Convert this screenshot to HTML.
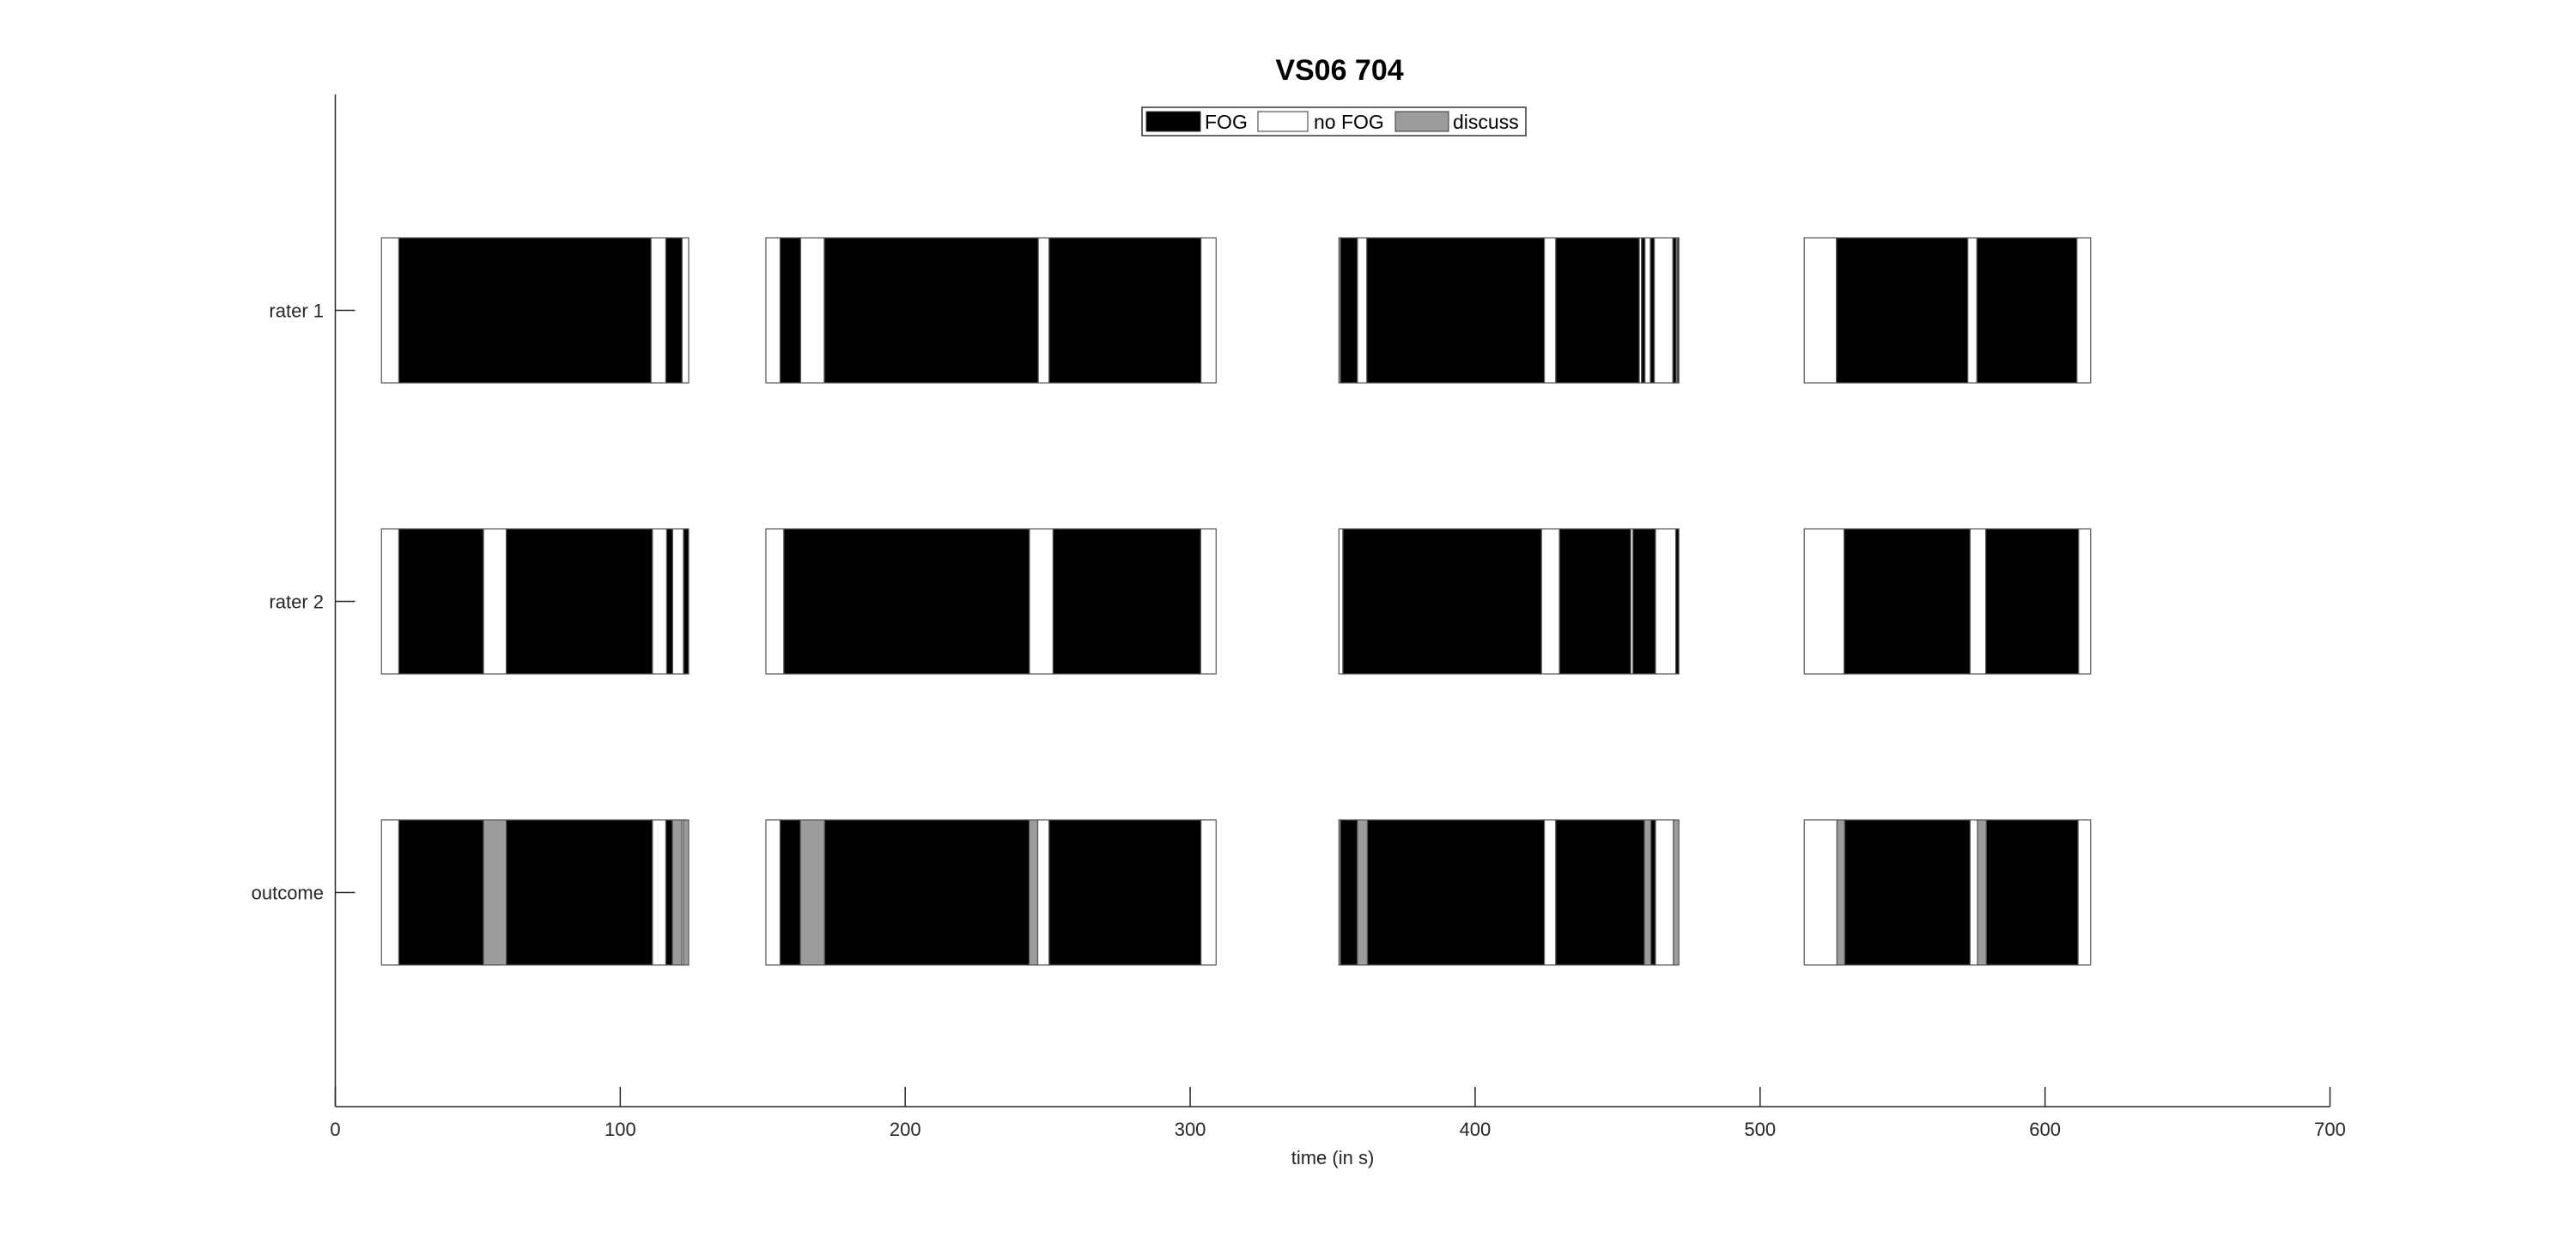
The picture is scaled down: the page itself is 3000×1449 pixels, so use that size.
<!DOCTYPE html>
<html><head><meta charset="utf-8">
<style>
html,body{margin:0;padding:0;background:#fff;}
svg{display:block;font-family:"Liberation Sans",Arial,sans-serif;}
</style></head>
<body>
<svg id="chart" width="3000" height="1449" viewBox="0 0 3000 1449" xmlns="http://www.w3.org/2000/svg">
<rect x="0" y="0" width="3000" height="1449" fill="#fff"/>
<text x="1560" y="93" text-anchor="middle" font-size="34" font-weight="bold" fill="#000">VS06 704</text>
<g id="plot"></g>
<g>
  <rect x="1330" y="125" width="447" height="33" fill="#fff" stroke="#333" stroke-width="1.5"/>
  <rect x="1335" y="130" width="63" height="23" fill="#000" stroke="#333"/>
  <text x="1403" y="150" font-size="23" fill="#000">FOG</text>
  <rect x="1465" y="130" width="58" height="23" fill="#fff" stroke="#333"/>
  <text x="1530" y="150" font-size="23" fill="#000">no FOG</text>
  <rect x="1625" y="130" width="62" height="23" fill="#9c9c9c" stroke="#333"/>
  <text x="1692" y="150" font-size="23" fill="#000">discuss</text>
</g>
</svg>
<script>
// Data: segments [start, end, state]; state: 1=FOG, 0=no FOG, 2=discuss
const rowLabels = ["rater 1", "rater 2", "outcome"];
const xTicks = [0, 100, 200, 300, 400, 500, 600, 700];
const rater1Segments = [
 [16.2,22.3,0],[22.3,110.8,1],[110.8,116,0],[116,121.7,1],[121.7,124,0],
 [151.1,156.1,0],[156.1,163.3,1],[163.3,171.6,0],[171.6,246.7,1],[246.7,250.5,0],[250.5,303.8,1],[303.8,309.1,0],
 [352.2,352.7,0],[352.7,358.7,1],[358.7,362.0,0],[362.0,424.3,1],[424.3,428.3,0],[428.3,457.6,1],[457.6,458.4,0],[458.4,459.6,1],[459.6,461.5,0],[461.5,462.9,1],[462.9,469.4,0],[469.4,470.6,1],[470.6,471.0,0],[471.0,471.5,1],
 [515.5,526.8,0],[526.8,572.9,1],[572.9,576.1,0],[576.1,611.2,1],[611.2,616.0,0]
];
const rater2Segments = [
 [16.2,22.3,0],[22.3,52,1],[52,60,0],[60,111.3,1],[111.3,116.3,0],[116.3,118.4,1],[118.4,122.2,0],[122.2,124,1],
 [151.1,157.4,0],[157.4,243.6,1],[243.6,251.9,0],[251.9,303.7,1],[303.7,309.1,0],
 [352.2,353.6,0],[353.6,423.3,1],[423.3,429.6,0],[429.6,454.6,1],[454.6,455.4,0],[455.4,463.3,1],[463.3,470.4,0],[470.4,471.5,1],
 [515.5,529.5,0],[529.5,573.7,1],[573.7,579.2,0],[579.2,611.8,1],[611.8,616.0,0]
];
const outcomeSegments = [
 [16.2,22.3,0],[22.3,52,1],[52,60,2],[60,111.3,1],[111.3,116,0],[116,118.3,1],[118.3,121.6,2],[121.6,122.2,0],[122.2,124,2],
 [151.1,156.1,0],[156.1,163.2,1],[163.2,171.7,2],[171.7,243.5,1],[243.5,246.5,2],[246.5,250.5,0],[250.5,303.8,1],[303.8,309.1,0],
 [352.2,352.7,0],[352.7,358.7,1],[358.7,362.2,2],[362.2,424.3,1],[424.3,428.3,0],[428.3,459.4,1],[459.4,461.7,2],[461.7,463.3,1],[463.3,469.6,0],[469.6,471.5,2],
 [515.5,527.0,0],[527.0,529.7,2],[529.7,573.7,1],[573.7,576.3,0],[576.3,579.4,2],[579.4,611.6,1],[611.6,616.0,0]
];
const stateNames = ["no-fog", "fog", "discuss"];

const NS = "http://www.w3.org/2000/svg";
const X0 = 390.5, X1 = 2713.5, XMIN = 0, XMAX = 700;
const xScale = t => X0 + (t - XMIN) / (XMAX - XMIN) * (X1 - X0);
const AX_TOP = 110, AX_BOT = 1289;
const rowCenter = i => 361.5 + i * 339;
const BAR_H = 169;
const fills = ["#ffffff", "#000000", "#9c9c9c"];
const plot = document.getElementById("plot");
function mk(tag, attrs) {
  const e = document.createElementNS(NS, tag);
  for (const k in attrs) e.setAttribute(k, attrs[k]);
  plot.appendChild(e);
  return e;
}
const allRows = [rater1Segments, rater2Segments, outcomeSegments];
const rowKeys = ["rater-1", "rater-2", "outcome"];
allRows.forEach((segs, r) => {
  const yc = rowCenter(r);
  segs.forEach((s) => {
    const x = xScale(s[0]), w = xScale(s[1]) - xScale(s[0]);
    const el = mk("rect", {x: x, y: yc - BAR_H / 2, width: Math.max(w, 0.5), height: BAR_H,
      fill: fills[s[2]], stroke: "#555", "stroke-width": 1.2});
    
    
  });
});
// axes
let a = mk("line", {x1: X0, y1: AX_TOP, x2: X0, y2: AX_BOT, stroke: "#262626", "stroke-width": 1.5});


a = mk("line", {x1: X0, y1: AX_BOT, x2: X1, y2: AX_BOT, stroke: "#262626", "stroke-width": 1.5});


xTicks.forEach(t => {
  const x = xScale(t);
  const tk = mk("line", {x1: x, y1: AX_BOT, x2: x, y2: AX_BOT - 23, stroke: "#262626", "stroke-width": 1.5});
  
  
  const lb = mk("text", {x: x, y: AX_BOT + 34, "text-anchor": "middle", "font-size": 22, fill: "#262626"});
  lb.textContent = t;
  
  
});
rowLabels.forEach((l, i) => {
  const y = rowCenter(i);
  const tk = mk("line", {x1: X0, y1: y, x2: X0 + 23, y2: y, stroke: "#262626", "stroke-width": 1.5});
  
  
  const lb = mk("text", {x: 377, y: y + 8, "text-anchor": "end", "font-size": 22, fill: "#262626"});
  lb.textContent = l;
  
  
});
const xt = mk("text", {x: (X0 + X1) / 2, y: 1356, "text-anchor": "middle", "font-size": 22, fill: "#262626"});
xt.textContent = "time (in s)";


</script>
</body></html>
